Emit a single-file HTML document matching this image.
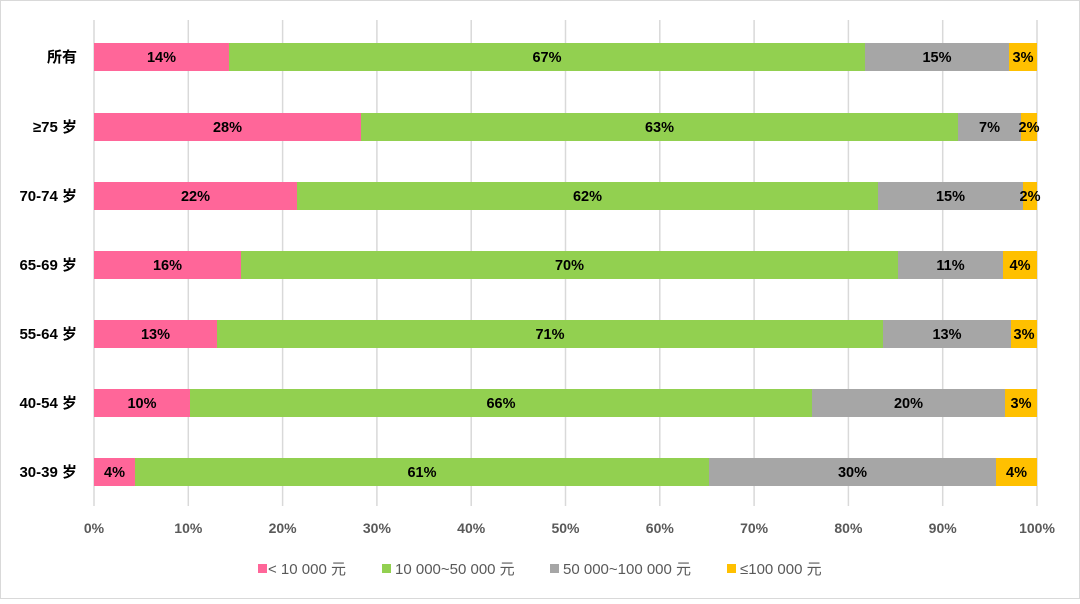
<!DOCTYPE html>
<html><head><meta charset="utf-8"><style>
body{margin:0;background:#fff}
svg text{font-family:"Liberation Sans","Noto Sans CJK SC",sans-serif}
</style></head><body>
<svg width="1080" height="599" xmlns="http://www.w3.org/2000/svg">
<rect x="0.5" y="0.5" width="1079" height="598" fill="#fff" stroke="#d9d9d9"/>
<g stroke="#d9d9d9" stroke-width="1.5">
<line x1="188.3" y1="20" x2="188.3" y2="506"/><line x1="282.6" y1="20" x2="282.6" y2="506"/>
<line x1="376.9" y1="20" x2="376.9" y2="506"/><line x1="471.2" y1="20" x2="471.2" y2="506"/>
<line x1="565.5" y1="20" x2="565.5" y2="506"/><line x1="659.8" y1="20" x2="659.8" y2="506"/>
<line x1="754.1" y1="20" x2="754.1" y2="506"/><line x1="848.4" y1="20" x2="848.4" y2="506"/>
<line x1="942.7" y1="20" x2="942.7" y2="506"/><line x1="1037" y1="20" x2="1037" y2="506"/>
<line x1="94" y1="20" x2="94" y2="506"/>
</g>
<g id="bars"></g>
<g font-size="15" font-weight="bold" fill="#000" text-anchor="end">
<text x="77" y="62">所有</text><text x="77" y="132">≥75 岁</text><text x="77" y="201">70-74 岁</text>
<text x="77" y="270">65-69 岁</text><text x="77" y="339">55-64 岁</text><text x="77" y="408">40-54 岁</text><text x="77" y="477">30-39 岁</text>
</g>
<g font-size="14" font-weight="bold" fill="#595959" text-anchor="middle">
<text x="94" y="533">0%</text><text x="188.3" y="533">10%</text><text x="282.6" y="533">20%</text><text x="376.9" y="533">30%</text><text x="471.2" y="533">40%</text><text x="565.5" y="533">50%</text><text x="659.8" y="533">60%</text><text x="754.1" y="533">70%</text><text x="848.4" y="533">80%</text><text x="942.7" y="533">90%</text><text x="1037" y="533">100%</text>
</g>
<g font-size="15" fill="#595959">
<rect x="258" y="564" width="9" height="9" fill="#FF6699"/><text x="268" y="574">&lt; 10 000 元</text>
<rect x="382" y="564" width="9" height="9" fill="#92D050"/><text x="395" y="574">10 000~50 000 元</text>
<rect x="550" y="564" width="9" height="9" fill="#A6A6A6"/><text x="563" y="574">50 000~100 000 元</text>
<rect x="727" y="564" width="9" height="9" fill="#FFC000"/><text x="740" y="574">≤100 000 元</text>
</g>
</svg>
<script>
var rows=[[43,229,865,1009,["14%","67%","15%","3%"]],[113,361,958,1021,["28%","63%","7%","2%"]],[182,297,878,1023,["22%","62%","15%","2%"]],[251,241,898,1003,["16%","70%","11%","4%"]],[320,217,883,1011,["13%","71%","13%","3%"]],[389,190,812,1005,["10%","66%","20%","3%"]],[458,135,709,996,["4%","61%","30%","4%"]]];
var cols=["#FF6699","#92D050","#A6A6A6","#FFC000"],g=document.getElementById("bars"),s="";
rows.forEach(function(r){var xs=[94,r[1],r[2],r[3],1037];for(var i=0;i<4;i++){s+='<rect x="'+xs[i]+'" y="'+r[0]+'" width="'+(xs[i+1]-xs[i])+'" height="28" fill="'+cols[i]+'"/>';s+='<text x="'+((xs[i]+xs[i+1])/2)+'" y="'+(r[0]+19)+'" font-size="14.5" font-weight="bold" text-anchor="middle" fill="#000">'+r[4][i]+'</text>';}});
g.innerHTML=s;
</script>
</body></html>
